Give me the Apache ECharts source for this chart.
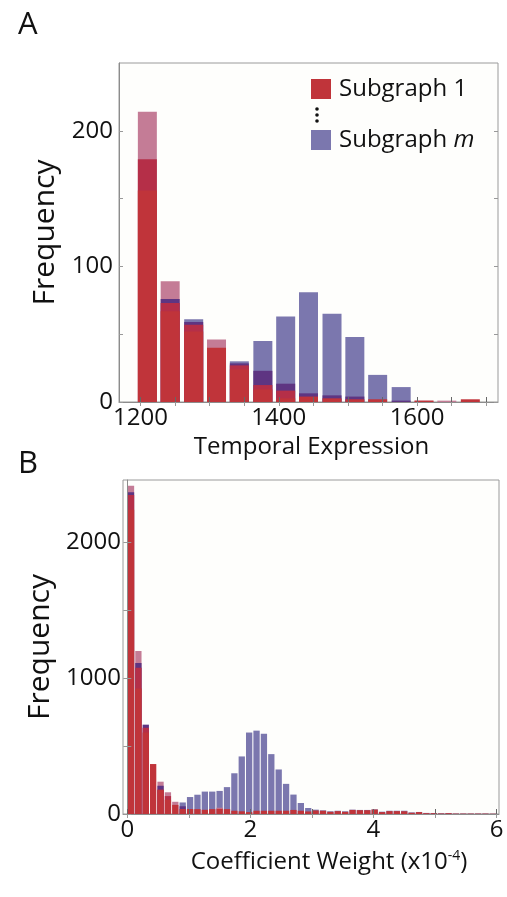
<!DOCTYPE html>
<html>
<head>
<meta charset="utf-8">
<script src="https://cdn.jsdelivr.net/npm/echarts@6/dist/echarts.min.js"></script>
<style>
  html, body { margin: 0; padding: 0; background: #fff; }
  #chart { width: 507px; height: 897px; }
</style>
</head>
<body>
<div id="chart"></div>
<script>
var FONT = '"Open Sans", sans-serif';

// panel A - temporal expression, bin centres
var binsA = [1210, 1243, 1277, 1310, 1343, 1377, 1410, 1443, 1477, 1510, 1543, 1577, 1610, 1643, 1677];
var subgraphM_A = [0, 0, 61, 0, 30, 45, 63, 81, 65, 48, 20, 11, 0, 0, 0];
var overlapTop_A = [214, 89, 0, 46, 0, 0, 0, 0, 0, 0, 0, 0, 1, 1, 0];
var overlapDark_A = [0, 76, 59, 0, 28.5, 23, 13.5, 6.4, 4.9, 4, 0, 1, 0, 0, 0];
var overlapMid_A = [179, 73, 57, 0, 27, 12.5, 8.4, 0, 0, 0, 0, 0, 0, 0, 0];
var subgraph1_A = [156, 67, 52, 40, 24, 9.3, 2.7, 4, 2.7, 2, 2, 0, 1, 0, 2];
var ticksXA = [1200, 1250, 1300, 1350, 1400, 1450, 1500, 1550, 1600, 1650, 1700];
var labelsXA = [1200, 1400, 1600];
var ticksYA = [0, 50, 100, 150, 200];
var labelsYA = [0, 100, 200];

// panel B - coefficient weight (x10^-4), bin centres
var binsB = [0.06, 0.18, 0.30, 0.42, 0.54, 0.66, 0.78, 0.90, 1.02, 1.14,
  1.26, 1.38, 1.50, 1.62, 1.74, 1.86, 1.98, 2.10, 2.22, 2.34,
  2.46, 2.58, 2.70, 2.82, 2.94, 3.06, 3.18, 3.30, 3.42, 3.54,
  3.66, 3.78, 3.90, 4.02, 4.14, 4.26, 4.38, 4.50, 4.62, 4.74,
  4.86, 4.98, 5.10, 5.22, 5.34, 5.46, 5.58, 5.70, 5.82, 5.94];
var subgraphM_B = [0, 0, 0, 0, 0, 0, 0, 85, 125, 142,
  165, 165, 170, 198, 300, 424, 600, 614, 591, 441,
  328, 222, 143, 81, 44, 32, 27, 20, 24, 20,
  32, 30, 30, 34, 17, 24, 24, 24, 12, 15,
  8, 7, 5, 7, 3, 3, 3, 3, 3, 2];
var overlapTop_B = [2418, 1200, 0, 0, 238, 160, 90, 0, 0, 0,
  0, 0, 46, 0, 0, 0, 0, 0, 0, 0,
  0, 0, 0, 0, 0, 0, 0, 0, 0, 0,
  0, 0, 0, 0, 0, 0, 0, 0, 0, 0,
  0, 0, 0, 0, 0, 0, 0, 0, 0, 0];
var overlapDark_B = [2370, 1112, 658, 0, 208, 0, 0, 57, 0, 0,
  0, 0, 0, 0, 0, 0, 0, 0, 0, 0,
  0, 0, 0, 0, 0, 0, 0, 0, 0, 0,
  0, 0, 0, 0, 0, 0, 0, 0, 0, 0,
  0, 0, 0, 0, 0, 0, 0, 0, 0, 0];
var overlapMid_B = [2350, 1078, 635, 0, 180, 132, 0, 0, 0, 0,
  0, 0, 0, 0, 0, 0, 0, 0, 0, 0,
  0, 0, 0, 0, 0, 0, 0, 0, 0, 0,
  0, 0, 0, 0, 0, 0, 0, 0, 0, 0,
  0, 0, 0, 0, 0, 0, 0, 0, 0, 0];
var subgraph1_B = [2240, 925, 600, 368, 176, 105, 67, 37, 37, 36,
  31, 36, 38, 36, 24, 20, 14, 24, 24, 24,
  24, 24, 30, 24, 19, 26, 24, 16, 21, 16,
  30, 28, 28, 33, 14, 21, 21, 20, 9, 14,
  6, 6, 4, 6, 3, 3, 3, 3, 3, 2];
var ticksXB = [0, 1, 2, 3, 4, 5, 6];
var labelsXB = [0, 2, 4, 6];
var ticksYB = [0, 500, 1000, 1500, 2000];
var labelsYB = [0, 1000, 2000];

var colors = {
  blue: '#7b77ae',
  top: '#c47c96',
  dark: '#5e3582',
  mid: '#b52f48',
  red: '#c0343a'
};

function plain(v) { return String(v); }

function layer(name, color, xs, ys, axis, width) {
  return {
    type: 'bar',
    name: name,
    xAxisIndex: axis,
    yAxisIndex: axis,
    barWidth: width,
    barGap: '-100%',
    silent: true,
    itemStyle: { color: color },
    data: xs.map(function (x, i) { return [x, ys[i]]; })
  };
}

function bottomAxis(grid, min, max, ticks, labels, name, gap, shift) {
  return {
    gridIndex: grid, type: 'value', position: 'bottom', min: min, max: max, z: 5,
    axisLine: { show: true, lineStyle: { color: '#8c8c8c' } },
    axisTick: { inside: true, length: 5, customValues: ticks, lineStyle: { color: '#666' } },
    axisLabel: { customValues: labels, formatter: plain, fontSize: 24, fontFamily: FONT, color: '#111', margin: 4 },
    splitLine: { show: false },
    name: name, nameLocation: 'middle', nameGap: gap,
    nameTextStyle: {
      fontSize: 24, fontFamily: FONT, color: '#111', padding: [0, 0, 0, shift],
      rich: {
        n: { fontSize: 24, fontFamily: FONT, color: '#111' },
        s: { fontSize: 14, fontFamily: FONT, color: '#111', padding: [0, 0, 12, 0] }
      }
    }
  };
}

function topAxis(grid, min, max, ticks) {
  return {
    gridIndex: grid, type: 'value', position: 'top', min: min, max: max, z: 5,
    axisLine: { show: false },
    axisTick: { inside: true, length: 4, customValues: ticks, lineStyle: { color: '#999' } },
    axisLabel: { show: false },
    splitLine: { show: false }
  };
}

function leftAxis(grid, max, ticks, labels, margin, gap) {
  return {
    gridIndex: grid, type: 'value', position: 'left', min: 0, max: max, z: 5,
    axisLine: { show: true, lineStyle: { color: '#8c8c8c' } },
    axisTick: { inside: true, length: 4, customValues: ticks, lineStyle: { color: '#999' } },
    axisLabel: { customValues: labels, formatter: plain, fontSize: 24, fontFamily: FONT, color: '#111', margin: margin },
    splitLine: { show: false },
    name: 'Frequency', nameLocation: 'middle', nameGap: gap,
    nameTextStyle: { fontSize: 30, fontFamily: FONT, color: '#111' }
  };
}

function rightAxis(grid, max, ticks) {
  return {
    gridIndex: grid, type: 'value', position: 'right', min: 0, max: max, z: 5,
    axisLine: { show: false },
    axisTick: { inside: true, length: 4, customValues: ticks, lineStyle: { color: '#999' } },
    axisLabel: { show: false },
    splitLine: { show: false }
  };
}

var myChart = echarts.init(document.getElementById('chart'));

myChart.setOption({
  animation: false,
  backgroundColor: '#fff',
  title: [
    { text: 'A', left: 13, top: 5, textStyle: { fontSize: 31, fontWeight: 'normal', fontFamily: FONT, color: '#111' } },
    { text: 'B', left: 13, top: 444, textStyle: { fontSize: 31, fontWeight: 'normal', fontFamily: FONT, color: '#111' } }
  ],
  grid: [
    { left: 119, top: 63, width: 379, height: 339, show: true, backgroundColor: '#fefefc', borderColor: '#9a9a9a', borderWidth: 1 },
    { left: 123, top: 480, width: 376, height: 334, show: true, backgroundColor: '#fefefc', borderColor: '#9a9a9a', borderWidth: 1 }
  ],
  legend: {
    data: ['Subgraph 1', 'Subgraph m'],
    orient: 'vertical',
    left: 306, top: 72,
    icon: 'rect',
    itemWidth: 20, itemHeight: 20, itemGap: 27,
    selectedMode: false,
    formatter: function (n) { return n === 'Subgraph m' ? 'Subgraph {i|m}' : n; },
    textStyle: {
      fontSize: 24, fontFamily: FONT, color: '#111', padding: [0, 0, 0, 3],
      rich: { i: { fontSize: 24, fontFamily: FONT, fontStyle: 'italic', color: '#111' } }
    }
  },
  graphic: [
    { type: 'circle', shape: { cx: 317, cy: 109, r: 1.8 }, style: { fill: '#111' } },
    { type: 'circle', shape: { cx: 317, cy: 115, r: 1.8 }, style: { fill: '#111' } },
    { type: 'circle', shape: { cx: 317, cy: 121, r: 1.8 }, style: { fill: '#111' } }
  ],
  xAxis: [
    bottomAxis(0, 1169, 1717, ticksXA, labelsXA, 'Temporal Expression', 33, 6),
    topAxis(0, 1169, 1717, ticksXA),
    bottomAxis(1, -0.07, 6.04, ticksXB, labelsXB, '{n|Coefficient Weight (x10}{s|-4}{n|)}', 35, 36),
    topAxis(1, -0.07, 6.04, ticksXB)
  ],
  yAxis: [
    leftAxis(0, 250, ticksYA, labelsYA, 6, 45),
    rightAxis(0, 250, ticksYA),
    leftAxis(1, 2460, ticksYB, labelsYB, 2, 49),
    rightAxis(1, 2460, ticksYB)
  ],
  series: [
    layer('Subgraph m', colors.blue, binsA, subgraphM_A, 0, 19),
    layer('overlap top', colors.top, binsA, overlapTop_A, 0, 19),
    layer('overlap dark', colors.dark, binsA, overlapDark_A, 0, 19),
    layer('overlap mid', colors.mid, binsA, overlapMid_A, 0, 19),
    layer('Subgraph 1', colors.red, binsA, subgraph1_A, 0, 19),
    layer('Subgraph m', colors.blue, binsB, subgraphM_B, 2, 6.3),
    layer('overlap top', colors.top, binsB, overlapTop_B, 2, 6.3),
    layer('overlap dark', colors.dark, binsB, overlapDark_B, 2, 6.3),
    layer('overlap mid', colors.mid, binsB, overlapMid_B, 2, 6.3),
    layer('Subgraph 1', colors.red, binsB, subgraph1_B, 2, 6.3)
  ]
});
</script>
</body>
</html>
